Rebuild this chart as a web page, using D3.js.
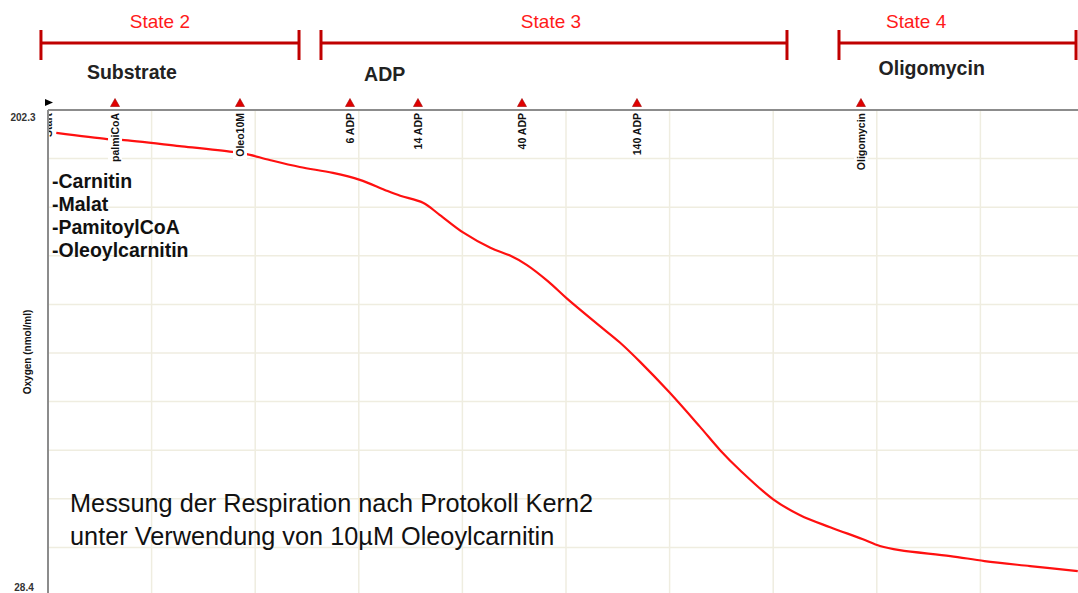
<!DOCTYPE html>
<html>
<head>
<meta charset="utf-8">
<script src="https://cdn.jsdelivr.net/npm/d3@7"></script>
<style>
  html, body { margin: 0; padding: 0; background: #fff; }
  svg { display: block; font-family: "Liberation Sans", Arial, sans-serif; }
</style>
</head>
<body>
<svg id="chart" width="1078" height="593"></svg>
<script>
// Oxygen trace (time in grid divisions, oxygen in nmol/ml)
const timeDiv = [0.08, 0.57, 0.71, 1.27, 1.78, 1.91, 2.14, 2.43, 2.75, 3.01, 3.25, 3.40, 3.62, 3.78,
  4.01, 4.27, 4.46, 4.62, 4.83, 5.01, 5.31, 5.52, 5.72, 6.00, 6.29, 6.49, 6.68, 7.00, 7.26, 7.55,
  7.86, 8.03, 8.22, 8.71, 9.04, 9.48, 9.94];
const oxygen = [194.1, 191.9, 191.6, 189.4, 187.3, 186.6, 184.4, 181.9, 179.8, 177.3, 173.7, 171.6,
  169.1, 164.8, 158.4, 153.0, 150.2, 146.9, 140.9, 134.8, 125.5, 119.1, 112.0, 101.2, 89.1, 80.5,
  73.4, 63.0, 57.3, 53.0, 48.8, 46.3, 44.8, 42.7, 40.9, 39.1, 37.3];

// Injection events
const eventNames = ["Start", "palmiCoA", "Oleo10M", "6 ADP", "14 ADP", "40 ADP", "140 ADP", "Oligomycin"];
const eventTimes = [0, 0.647, 1.853, 2.915, 3.571, 4.575, 5.685, 7.847];

// Respiratory states (brackets above the plot)
const stateNames = ["State 2", "State 3", "State 4"];
const stateFrom = [-0.068, 2.635, 7.635];
const stateTo = [2.423, 7.133, 9.923];
const stateLabelAt = [1.08, 4.855, 8.38];

// Additions grouped by phase
const phaseNames = ["Substrate", "ADP", "Oligomycin"];
const phaseAt = [0.81, 3.25, 8.53];

const substrates = ["-Carnitin", "-Malat", "-PamitoylCoA", "-Oleoylcarnitin"];
const noteLines = ["Messung der Respiration nach Protokoll Kern2", "unter Verwendung von 10µM Oleoylcarnitin"];

const yMin = 28.4, yMax = 202.3;

const svg = d3.select("#chart");
const W = 1078, H = 593;
const plotL = 48, plotT = 110, plotR = 1084, plotB = 596;

const x = d3.scaleLinear().domain([0, 10]).range([plotL, plotR]);
const y = d3.scaleLinear().domain([yMin, yMax]).range([plotB, plotT]);

svg.append("defs").append("clipPath").attr("id", "plotClip")
  .append("rect").attr("x", plotL).attr("y", plotT).attr("width", W - plotL).attr("height", H - plotT);

const plot = svg.append("g").attr("clip-path", "url(#plotClip)");

// grid
const gridColor = "#efede0";
plot.append("g").selectAll("line").data(d3.range(1, 10)).join("line")
  .attr("x1", d => x(d)).attr("x2", d => x(d))
  .attr("y1", plotT).attr("y2", H)
  .attr("stroke", gridColor).attr("stroke-width", 1.5);
const yStep = (yMax - yMin) / 10;
plot.append("g").selectAll("line").data(d3.range(1, 10)).join("line")
  .attr("x1", plotL).attr("x2", W)
  .attr("y1", d => y(yMin + d * yStep)).attr("y2", d => y(yMin + d * yStep))
  .attr("stroke", gridColor).attr("stroke-width", 1.5);

// trace
const line = d3.line().x((d, i) => x(timeDiv[i])).y(d => y(d)).curve(d3.curveCatmullRom);
plot.append("path").datum(oxygen)
  .attr("d", line)
  .attr("fill", "none")
  .attr("stroke", "#ff1010")
  .attr("stroke-width", 2.2)
  .attr("stroke-linejoin", "round");

// event labels with white backing (interrupts the trace)
const evG = plot.append("g");
eventNames.forEach((name, i) => {
  const ex = x(eventTimes[i]);
  const t = evG.append("text")
    .attr("transform", `translate(${ex + 4},${plotT + 3}) rotate(-90)`)
    .attr("text-anchor", "end")
    .attr("font-size", 10.5)
    .attr("font-weight", "bold")
    .attr("fill", "#111")
    .text(name);
  const bb = t.node().getBBox();
  evG.insert("rect", () => t.node())
    .attr("x", ex - 7)
    .attr("y", plotT + 1)
    .attr("width", 14)
    .attr("height", bb.width + 4)
    .attr("fill", "#fff");
});

// axes frame
svg.append("line").attr("x1", plotL).attr("x2", W).attr("y1", plotT).attr("y2", plotT)
  .attr("stroke", "#8c8c8c").attr("stroke-width", 2);
svg.append("line").attr("x1", plotL).attr("x2", plotL).attr("y1", plotT).attr("y2", H)
  .attr("stroke", "#8c8c8c").attr("stroke-width", 2);

// y extent labels
svg.append("text").attr("x", 23).attr("y", y(yMax) + 11).attr("text-anchor", "middle")
  .attr("font-size", 10).attr("font-weight", "bold").attr("fill", "#333").text(yMax.toFixed(1));
svg.append("text").attr("x", 24).attr("y", 591).attr("text-anchor", "middle")
  .attr("font-size", 10).attr("font-weight", "bold").attr("fill", "#333").text(yMin.toFixed(1));
svg.append("text")
  .attr("transform", `translate(31,352) rotate(-90)`)
  .attr("text-anchor", "middle")
  .attr("font-size", 10).attr("font-weight", "bold").attr("fill", "#111")
  .text("Oxygen (nmol/ml)");

// event markers
eventNames.forEach((name, i) => {
  const ex = x(eventTimes[i]);
  if (i === 0) {
    svg.append("path")
      .attr("d", `M${ex - 3},99 L${ex + 5},102.5 L${ex - 3},106 Z`)
      .attr("fill", "#000");
  } else {
    svg.append("path")
      .attr("d", `M${ex - 4.5},106.5 L${ex},98.5 L${ex + 4.5},106.5 Z`)
      .attr("fill", "#e00000").attr("stroke", "#a00000").attr("stroke-width", 0.6);
  }
});

// state brackets
const stateColor = "#c00000";
stateNames.forEach((name, i) => {
  const a = x(stateFrom[i]), b = x(stateTo[i]);
  const g = svg.append("g");
  g.append("line").attr("x1", a).attr("x2", b).attr("y1", 43).attr("y2", 43)
    .attr("stroke", stateColor).attr("stroke-width", 3);
  [a, b].forEach(p => g.append("line").attr("x1", p).attr("x2", p).attr("y1", 30).attr("y2", 60)
    .attr("stroke", stateColor).attr("stroke-width", 3));
  g.append("text").attr("x", x(stateLabelAt[i])).attr("y", 27.5).attr("text-anchor", "middle")
    .attr("font-size", 19).attr("fill", "#ff1a1a").text(name);
});

// phase labels
const phaseY = [79, 81, 75];
phaseNames.forEach((name, i) => {
  svg.append("text").attr("x", x(phaseAt[i])).attr("y", phaseY[i]).attr("text-anchor", "middle")
    .attr("font-size", 19.5).attr("font-weight", "bold").attr("fill", "#222").text(name);
});

// substrate list
substrates.forEach((s, i) => {
  svg.append("text").attr("x", 52).attr("y", 188 + i * 23)
    .attr("font-size", 19.5).attr("font-weight", "bold").attr("fill", "#111").text(s);
});

// note
noteLines.forEach((s, i) => {
  svg.append("text").attr("x", 70).attr("y", 512 + i * 33)
    .attr("font-size", 25.3).attr("fill", "#111").text(s);
});
</script>
</body>
</html>
